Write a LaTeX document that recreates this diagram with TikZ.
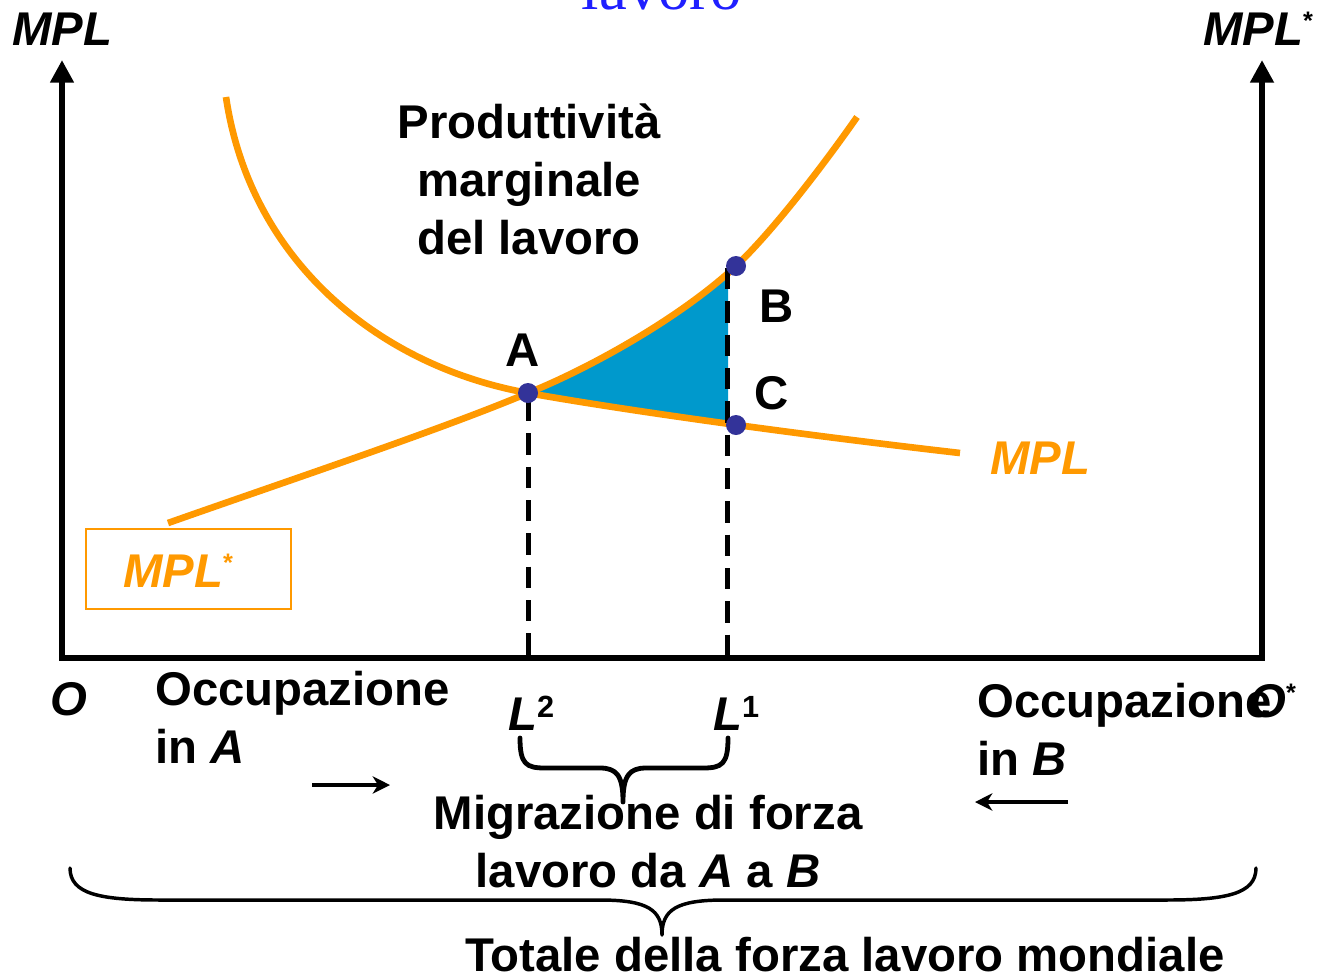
\documentclass[tikz,border=0pt]{standalone}
\usepackage{fontspec}
\setmainfont{Liberation Sans}
\newfontfamily\serifface{Liberation Serif}
\usetikzlibrary{arrows.meta}
\definecolor{mplorange}{HTML}{FF9900}
\definecolor{areablue}{HTML}{0099CC}
\definecolor{dotblue}{HTML}{333399}
\definecolor{titleblue}{HTML}{1F1FFF}
\newcommand\astx{\raisebox{12pt}{\fontsize{19}{19}\selectfont\upshape *}}
\newcommand\supnum[1]{\raisebox{9.5pt}{\fontsize{23}{23}\selectfont\upshape #1}}
\begin{document}
\begin{tikzpicture}[x=0.75pt, y=-0.75pt,
  txt/.style={inner sep=0pt, font=\fontsize{35.5}{43.5}\selectfont\bfseries},
  itx/.style={inner sep=0pt, font=\fontsize{35.5}{43.5}\selectfont\bfseries\itshape},
  curve/.style={draw=mplorange, line width=5pt},
  axisline/.style={line width=4.5pt, line join=miter,
    arrows={Triangle[length=17pt,width=17pt]-Triangle[length=17pt,width=17pt]}},
  guide/.style={line width=3.75pt, dash pattern=on 16pt off 9pt},
  dot/.style={circle, fill=dotblue, minimum size=15pt, inner sep=0pt},
  bracepath/.style={line width=3.6pt, line cap=round, line join=round},
  bigbrace/.style={line width=2.6pt, line cap=round, line join=round},
  migarrow/.style={line width=3.6pt, -{Stealth[length=13pt,width=13pt,inset=4pt]}},
  mplbox/.style={draw=mplorange, line width=1.6pt, minimum width=153.75pt, minimum height=60pt, inner sep=0pt}
]
\useasboundingbox (0,0) rectangle (1319,976);
\clip (0,0) rectangle (1319,976);

% title fragment at the top
\node[inner sep=0pt, anchor=base, text=titleblue, font=\serifface\fontsize{47}{47}\selectfont] (title) at (662,9) {lavoro};

% axes
\coordinate (ytop) at (62,60);
\coordinate (O) at (62,658);
\coordinate (Os) at (1262,658);
\coordinate (ystop) at (1262,60);
\draw[axisline] (ytop) -- (O) -- (Os) -- (ystop);

% shaded area
\begin{scope}
  \clip (500,200) rectangle (728,450);
  \fill[areablue] (528,393) .. controls (590,368) and (680,318) .. (736,266)
     -- (736,425) .. controls (640,411) and (580,402) .. (528,393) -- cycle;
\end{scope}

% curves
\draw[curve] (226,97) .. controls (250,260) and (378,366) .. (528,393)
  .. controls (600,406) and (760,430) .. (960,453);
\draw[curve] (168,523) .. controls (290,480) and (440,430) .. (528,393)
  .. controls (590,368) and (680,318) .. (736,266)
  .. controls (770,234) and (820,170) .. (857,117);

% points
\coordinate (L2) at (528,658);
\coordinate (L1) at (727,658);
\coordinate (Atop) at (528,400);
\coordinate (Btop) at (727,268);
\draw[guide] (Atop) -- (L2);
\draw[guide] (Btop) -- (L1);
\node[dot] (A) at (528,393) {};
\node[dot] (B) at (736,266) {};
\node[dot] (C) at (736,425) {};

% labels in the plot
\node[txt, anchor=base] (Alab) at (523,366) {A};
\node[txt, anchor=base] (Blab) at (777,322) {B};
\node[txt, anchor=base] (Clab) at (772,409) {C};
\node[txt, anchor=base, align=center] (prod) at (529,254) {Produttività\\marginale\\del lavoro};
\node[itx, anchor=base west, text=mplorange] (mpllab) at (990,474) {MPL};
\node[mplbox] (mplsbox) at (188.5,569) {};
\node[itx, anchor=base west, text=mplorange] (mplslab) at (123,587) {MPL\astx};

% axis labels
\node[itx, anchor=base west] (mplaxis) at (12,45) {MPL};
\node[itx, anchor=base west] (mplsaxis) at (1203,45) {MPL\astx};
\node[itx, anchor=base west] (Olab) at (50,715) {O};
\node[txt, anchor=base west, align=left] (occA) at (155,763) {Occupazione\\in \textit{A}};
\node[txt, anchor=base west, align=left] (occB) at (977,775) {Occupazione\\in \textit{B}};
\node[itx, anchor=base west] (Oslab) at (1249,717) {O\astx};
\node[itx, anchor=base west] (L2lab) at (508,730) {L\supnum{2}};
\node[itx, anchor=base west] (L1lab) at (713,730) {L\supnum{1}};

% migration arrows
\coordinate (arAs) at (312,785);
\coordinate (arAe) at (390,785);
\coordinate (arBs) at (1068,802);
\coordinate (arBe) at (975,802);
\draw[migarrow] (arAs) -- (arAe);
\draw[migarrow] (arBs) -- (arBe);

% small brace
\coordinate (sbL) at (520,738);
\coordinate (sbR) at (728,738);
\coordinate (sbT) at (623,802);
\draw[bracepath] (sbL) .. controls (520,764) and (526,768) .. (545,768) -- (600,768)
  .. controls (617,768) and (623,776) .. (sbT)
  .. controls (623,776) and (629,768) .. (646,768) -- (703,768)
  .. controls (722,768) and (728,764) .. (sbR);
\node[txt, anchor=base, align=center] (migr) at (648,887) {Migrazione di forza\\lavoro da \textit{A} a \textit{B}};

% big brace
\coordinate (bbL) at (70,868);
\coordinate (bbR) at (1256,868);
\coordinate (bbT) at (662,935);
\draw[bigbrace] (bbL) .. controls (70,894) and (100,900) .. (160,900) -- (600,900)
  .. controls (648,900) and (662,910) .. (bbT)
  .. controls (662,910) and (676,900) .. (724,900) -- (1166,900)
  .. controls (1226,900) and (1256,894) .. (bbR);
\node[txt, anchor=base] (total) at (845,971) {Totale della forza lavoro mondiale};
\end{tikzpicture}
\end{document}
